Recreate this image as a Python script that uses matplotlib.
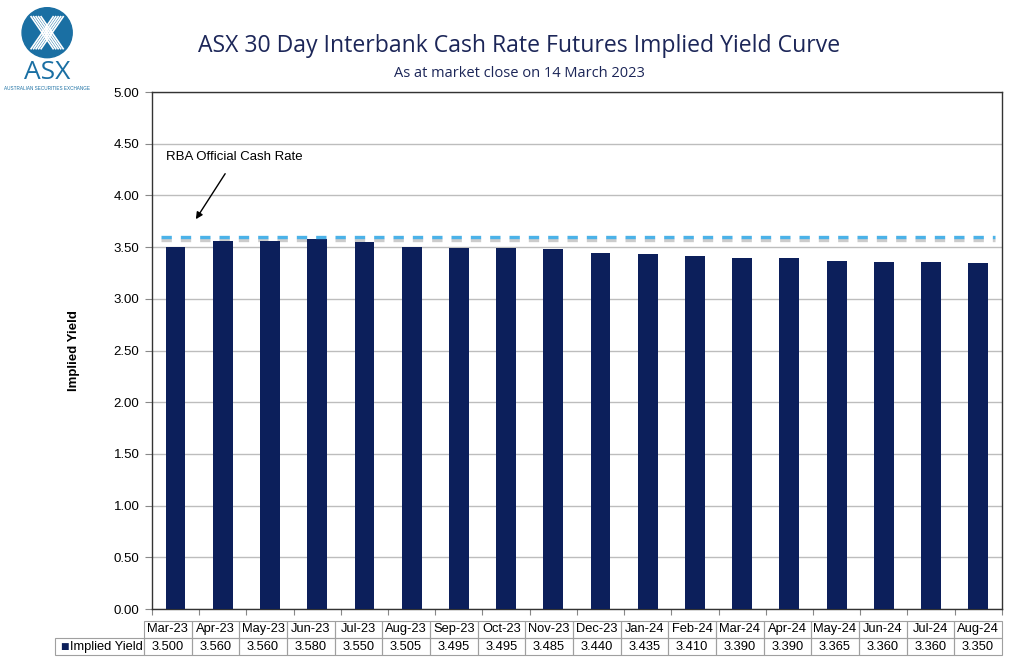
import matplotlib.pyplot as plt
import matplotlib.patches as mpatches
import matplotlib.transforms as mtransforms
import numpy as np

months = ['Mar-23', 'Apr-23', 'May-23', 'Jun-23', 'Jul-23', 'Aug-23', 'Sep-23', 'Oct-23', 'Nov-23',
          'Dec-23', 'Jan-24', 'Feb-24', 'Mar-24', 'Apr-24', 'May-24', 'Jun-24', 'Jul-24', 'Aug-24']
implied_yield = [3.500, 3.560, 3.560, 3.580, 3.550, 3.505, 3.495, 3.495, 3.485,
                 3.440, 3.435, 3.410, 3.390, 3.390, 3.365, 3.360, 3.360, 3.350]
cash_rate = 3.60
y_ticks = [0, 0.5, 1.0, 1.5, 2.0, 2.5, 3.0, 3.5, 4.0, 4.5, 5.0]

navy = '#0c1f5b'
plt.rcParams['font.family'] = ['Liberation Sans', 'DejaVu Sans']

fig = plt.figure(figsize=(10.24, 6.62), dpi=100)
ax = fig.add_axes([0.1484, 0.080, 0.830, 0.781])

x = np.arange(len(months))
ax.bar(x, implied_yield, width=0.42, color=navy, zorder=3)

# cash rate line with soft shadow
ax.plot([-0.3, 17.35], [cash_rate - 0.035] * 2, color='#cccccc', lw=2.4,
        dashes=(3.1, 2.7), zorder=2)
ax.plot([-0.3, 17.35], [cash_rate] * 2, color='#4bb2e8', lw=2.4,
        dashes=(3.1, 2.7), zorder=4)

ax.set_xlim(-0.5, len(months) - 0.5)
ax.set_ylim(0, 5)
ax.set_yticks(y_ticks)
ax.set_yticklabels([f'{v:.2f}' for v in y_ticks], fontsize=9.5)
ax.set_xticks(np.arange(len(months) + 1) - 0.5)
ax.set_xticklabels([])
ax.tick_params(axis='x', length=4, color='#888888')
ax.tick_params(axis='y', length=5, color='#888888', pad=4)
ax.grid(axis='y', color='#bdbdbd', lw=1, zorder=0)
for s in ax.spines.values():
    s.set_color('#333333')
    s.set_linewidth(1)
ax.set_ylabel('Implied Yield', fontsize=9.5, fontweight='bold', labelpad=24)

ax.text(-0.2, 4.37, 'RBA Official Cash Rate', fontsize=9.5, ha='left', va='center', zorder=5)
ax.annotate('', xy=(0.43, 3.77), xytext=(1.05, 4.21),
            arrowprops=dict(arrowstyle='-|>', color='black', lw=1, mutation_scale=10,
                            shrinkA=0, shrinkB=0))

# data table below the axes
trans = mtransforms.blended_transform_factory(ax.transData, ax.transAxes)
col_left = -0.67
col_w = (len(months) - 0.5 - col_left) / len(months)
row_top = -0.023
row_h = 0.033
label_left = -2.55
edge = '#a0a0a0'
for i, (m, v) in enumerate(zip(months, implied_yield)):
    xl = col_left + i * col_w
    for r, txt in enumerate([m, f'{v:.3f}']):
        yb = row_top - (r + 1) * row_h
        ax.add_patch(mpatches.Rectangle((xl, yb), col_w, row_h, transform=trans,
                                        fill=False, ec=edge, lw=0.8, clip_on=False))
        ax.text(xl + col_w / 2, yb + row_h / 2, txt, transform=trans, ha='center',
                va='center', fontsize=9.3, clip_on=False)
yb = row_top - 2 * row_h
ax.add_patch(mpatches.Rectangle((label_left, yb), col_left - label_left, row_h, transform=trans,
                                fill=False, ec=edge, lw=0.8, clip_on=False))
ax.text(label_left + 0.1, yb + row_h / 2, '\u25a0', transform=trans, color=navy,
        fontsize=6.5, va='center', ha='left', family='DejaVu Sans')
ax.text(label_left + 0.32, yb + row_h / 2, 'Implied Yield', transform=trans,
        fontsize=9.3, va='center', ha='left')

# titles
fig.text(0.507, 0.930, 'ASX 30 Day Interbank Cash Rate Futures Implied Yield Curve',
         ha='center', va='center', fontsize=16.6, color='#1c2658', family='Open Sans')
fig.text(0.507, 0.889, 'As at market close on 14 March 2023', ha='center', va='center',
         fontsize=10.5, color='#1c2658', family='Open Sans')

# ASX logo
lax = fig.add_axes([0.0, 0.86, 0.095, 0.14])
lax.set_xlim(0, 97)
lax.set_ylim(0, 92.7)
lax.axis('off')
lax.add_patch(mpatches.Circle((47, 60), 25, color='#1a6fa3'))
for dx in np.linspace(-5, 5, 5):
    lax.plot([36 + dx, 58 + dx], [76, 44], color='white', lw=1.2)
    lax.plot([58 + dx, 36 + dx], [76, 44], color='white', lw=1.2)
lax.text(47, 20, 'ASX', ha='center', va='center', fontsize=19, color='#1a6fa3',
         family='Open Sans')
lax.text(47, 4, 'AUSTRALIAN SECURITIES EXCHANGE', ha='center', va='center', fontsize=3.3,
         color='#1a6fa3')

fig.savefig('out.png', dpi=100)
